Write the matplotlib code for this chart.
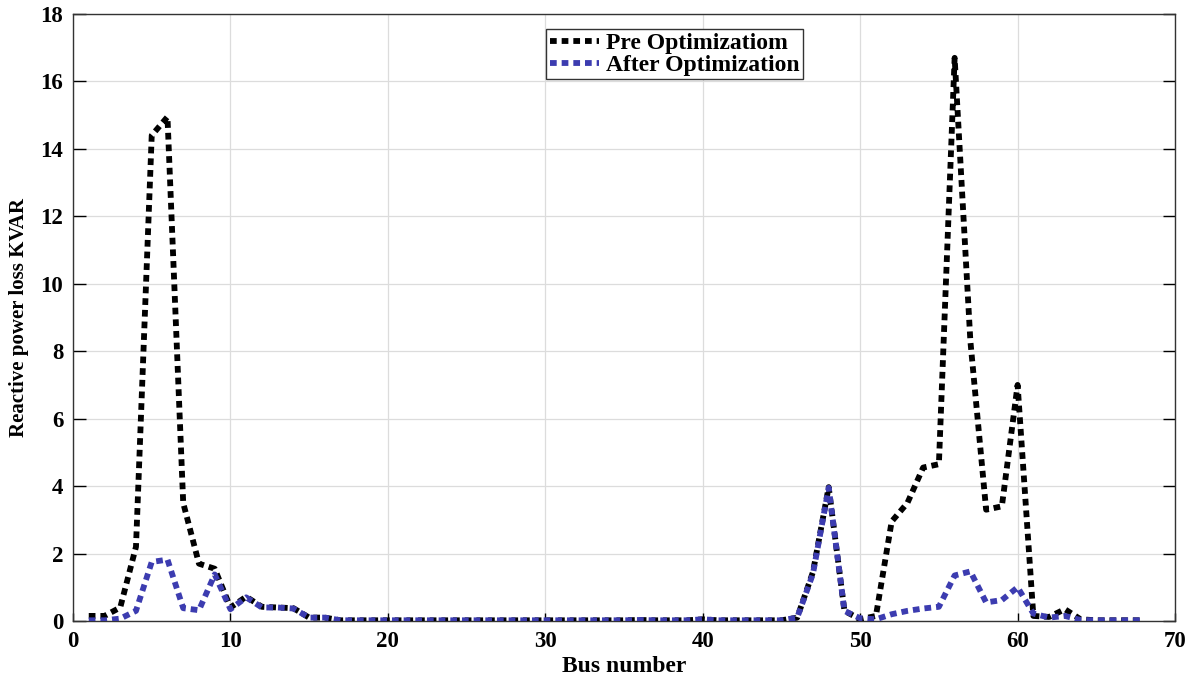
import matplotlib
matplotlib.use("Agg")
import matplotlib.pyplot as plt

# Branch/bus numbers 1..68
bus = list(range(1, 69))

# Reactive power loss per bus (KVAR)
pre_opt = [
    0.15, 0.15, 0.40, 2.20, 14.40, 14.95, 3.50, 1.70, 1.55, 0.40,
    0.72, 0.42, 0.40, 0.38, 0.10, 0.10, 0.02, 0.02, 0.02, 0.02,
    0.02, 0.02, 0.02, 0.02, 0.02, 0.02, 0.02, 0.02, 0.02, 0.02,
    0.02, 0.02, 0.02, 0.02, 0.02, 0.03, 0.02, 0.02, 0.02, 0.05,
    0.02, 0.02, 0.02, 0.02, 0.02, 0.10, 1.45, 3.97, 0.30, 0.05,
    0.15, 2.95, 3.50, 4.55, 4.65, 16.70, 8.30, 3.30, 3.40, 7.00,
    0.15, 0.12, 0.35, 0.05, 0.02, 0.02, 0.02, 0.02,
]
after_opt = [
    0.02, 0.02, 0.07, 0.30, 1.75, 1.82, 0.38, 0.32, 1.38, 0.35,
    0.70, 0.40, 0.40, 0.37, 0.10, 0.10, 0.02, 0.02, 0.02, 0.02,
    0.02, 0.02, 0.02, 0.02, 0.02, 0.02, 0.02, 0.02, 0.02, 0.02,
    0.02, 0.02, 0.02, 0.02, 0.02, 0.03, 0.02, 0.02, 0.02, 0.05,
    0.02, 0.02, 0.02, 0.02, 0.02, 0.10, 1.40, 3.95, 0.30, 0.08,
    0.05, 0.20, 0.30, 0.37, 0.42, 1.35, 1.47, 0.55, 0.62, 1.00,
    0.22, 0.10, 0.15, 0.03, 0.02, 0.02, 0.02, 0.02,
]

x_ticks = [0, 10, 20, 30, 40, 50, 60, 70]
y_ticks = [0, 2, 4, 6, 8, 10, 12, 14, 16, 18]

serif = ["Liberation Serif", "DejaVu Serif"]

fig = plt.figure(figsize=(11.91, 6.83), dpi=100)
ax = fig.add_axes([0.0613, 0.0908, 0.9253, 0.8887])

dots = (0, (1.15, 0.85))
ax.plot(bus, pre_opt, color="#000000", lw=4.2, linestyle=dots,
        dash_capstyle="butt", label="Pre Optimizatiom", zorder=3)
ax.plot(bus, after_opt, color="#3c3cb0", lw=4.2, linestyle=dots,
        dash_capstyle="butt", label="After Optimization", zorder=4)

ax.set_xlim(0, 70)
ax.set_ylim(0, 18)
ax.set_xticks(x_ticks)
ax.set_yticks(y_ticks)
ax.grid(True, color="#dcdcdc", lw=0.9)
ax.set_axisbelow(True)
ax.tick_params(axis="y", direction="in", length=9, width=1, right=True,
               labelsize=16.5, pad=7)
ax.tick_params(axis="x", direction="in", length=6, width=1, top=False,
               labelsize=16.5, pad=7)
for lbl in ax.get_xticklabels() + ax.get_yticklabels():
    lbl.set_fontfamily(serif)
    lbl.set_fontweight("bold")
for sp in ax.spines.values():
    sp.set_linewidth(1.0)
    sp.set_color("#333333")

ax.set_xlabel("Bus number", fontsize=17, fontweight="bold", family=serif,
              labelpad=3)
ax.set_ylabel("Reactive power loss KVAR", fontsize=15, fontweight="bold",
              family=serif, labelpad=8)

leg = ax.legend(loc="upper center", bbox_to_anchor=(0.546, 0.975),
                prop={"family": serif, "weight": "bold", "size": 17},
                handlelength=2.1, handletextpad=0.3, borderpad=0.15,
                labelspacing=0.0, borderaxespad=0, fancybox=False,
                framealpha=1, edgecolor="#333333")
leg.get_frame().set_linewidth(1.0)

fig.savefig("out.png", dpi=100)
